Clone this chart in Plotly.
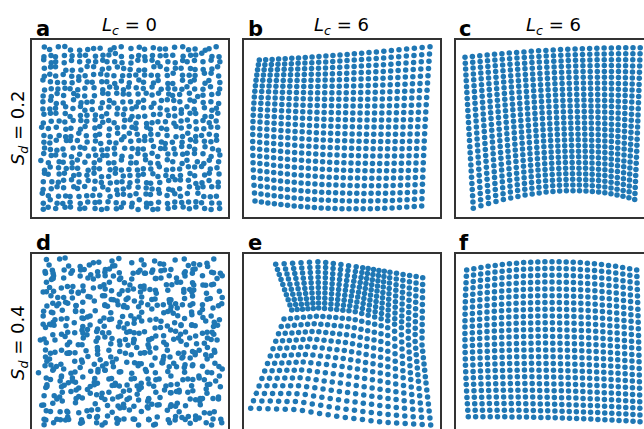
import numpy as np
import plotly.graph_objects as go

W, H = 644, 429

# Row/column labels
LC_VALUES = [0, 6, 6]
SD_VALUES = [0.2, 0.4]
PANEL_LETTERS = ["a", "b", "c", "d", "e", "f"]

# Disordered lattices (panels a, d): lattice extent, counts and site displacements
LATTICE_N = 25
LATTICE_X = [10.7, 186.0]
LATTICE_Y_TOP = [8.8, 168.8]
LATTICE_Y_BOTTOM = [8.0, 168.0]
JITTER_X = [0.8, -0.5, 0.1, -0.9, 0.6, -0.2, 0.9, -0.7, 0.3, -0.1, 0.5, -0.8, 0.2]
JITTER_Y = [-0.6, 0.4, 0.9, -0.3, -0.9, 0.7, 0.0, -0.5, 0.6, 0.2, -0.8, 0.3, 0.8,
            -0.2, 0.5, -0.7, 0.1]

# Deformed grids: control nets [row][col] = (x, y) in panel units
GRID_B = (25, 23)
NET_B = [[(15.3, 20.5), (96.0, 15.5), (186.0, 7.2)],
         [(9.0, 82.0), (94.0, 87.0), (181.0, 87.0)],
         [(11.0, 161.5), (91.0, 169.0), (177.7, 166.5)]]

GRID_C = (25, 26)
NET_C = [[(9.3, 17.8), (97.5, 10.5), (184.5, 8.2)],
         [(13.3, 92.0), (101.0, 81.0), (182.0, 84.5)],
         [(17.6, 168.7), (104.0, 151.5), (179.0, 160.0)]]

GRID_F = (25, 24)
NET_F = [[(11.0, 15.7), (96.3, 7.4), (181.0, 15.7)],
         [(9.3, 88.7), (97.0, 85.5), (183.0, 91.0)],
         [(12.6, 162.4), (99.5, 163.5), (184.3, 167.4)]]

GRID_E = (22, 23)
E_ROW_KNOTS = [0, 9, 10, 16, 22]
E_COL_KNOTS = [0.0, 0.25, 0.5, 0.75, 1.0]
NET_E = [[(31.7, 10.0), (76.0, 7.4), (116.0, 12.9), (144.3, 17.7), (178.7, 23.4)],
         [(47.7, 55.7), (76.0, 53.7), (108.0, 56.7), (142.0, 65.7), (178.0, 83.7)],
         [(40.0, 64.7), (74.0, 61.7), (108.0, 64.7), (142.0, 72.7), (178.0, 90.7)],
         [(23.5, 109.2), (61.0, 107.7), (102.0, 112.7), (142.0, 119.7), (182.0, 128.7)],
         [(6.7, 154.0), (52.0, 155.2), (97.0, 162.7), (142.0, 168.2), (186.7, 170.7)]]


def quad_basis(t):
    return np.stack([2 * (t - 0.5) * (t - 1), -4 * t * (t - 1), 2 * t * (t - 0.5)], axis=-1)


def smooth_grid(net, counts):
    nu, nv = counts
    P = np.array(net, dtype=float)            # (3, 3, 2)
    bu = quad_basis(np.linspace(0, 1, nu))    # (nu, 3)
    bv = quad_basis(np.linspace(0, 1, nv))    # (nv, 3)
    pts = np.einsum("vr,uc,rcd->vud", bv, bu, P)
    return pts[..., 0].ravel(), pts[..., 1].ravel()


def piecewise_grid(net, counts, col_knots, row_knots):
    nu, nv = counts
    P = np.array(net, dtype=float)
    u = np.linspace(0, 1, nu)
    rows = np.stack([np.stack([np.interp(u, col_knots, P[r, :, d]) for d in range(2)], -1)
                     for r in range(P.shape[0])])       # (nrows_ctrl, nu, 2)
    xs, ys = [], []
    for j in range(nv):
        for i in range(nu):
            xs.append(np.interp(j, row_knots, rows[:, i, 0]))
            ys.append(np.interp(j, row_knots, rows[:, i, 1]))
    return np.array(xs), np.array(ys)


def disordered_lattice(xlim, ylim, sd, gain):
    gx = np.linspace(xlim[0], xlim[1], LATTICE_N)
    gy = np.linspace(ylim[0], ylim[1], LATTICE_N)
    step = gx[1] - gx[0]
    amp = gain * sd * step
    nx, ny = len(JITTER_X), len(JITTER_Y)
    xs, ys = [], []
    for j in range(LATTICE_N):
        for i in range(LATTICE_N):
            kx = (5 * i + 3 * j + (i * j) % 7 + (j * j) % 5) % nx
            ky = (7 * i + 2 * j + (i * j) % 11 + (i * i) % 3) % ny
            xs.append(gx[i] + amp * JITTER_X[kx])
            ys.append(gy[j] + amp * JITTER_Y[ky])
    return np.array(xs), np.array(ys)


panels = [
    disordered_lattice(LATTICE_X, LATTICE_Y_TOP, SD_VALUES[0], 1.4),
    smooth_grid(NET_B, GRID_B),
    smooth_grid(NET_C, GRID_C),
    disordered_lattice(LATTICE_X, LATTICE_Y_BOTTOM, SD_VALUES[1], 1.6),
    piecewise_grid(NET_E, GRID_E, E_COL_KNOTS, E_ROW_KNOTS),
    smooth_grid(NET_F, GRID_F),
]

# Panel frames in pixels (left, top); each frame is 195.6 x 177.2
FRAME_W, FRAME_H = 195.6, 177.2
LEFTS = [32.0, 244.0, 455.7]
TOPS = [39.5, 254.3]

fig = go.Figure()
line_style = dict(showline=True, linecolor="#333333", linewidth=1.5,
                  showgrid=False, zeroline=False, showticklabels=False, ticks="")

for k, (xs, ys) in enumerate(panels):
    r, c = divmod(k, 3)
    n = k + 1
    xa = "x" if n == 1 else f"x{n}"
    ya = "y" if n == 1 else f"y{n}"
    fig.add_trace(go.Scatter(x=xs, y=ys, mode="markers", xaxis=xa, yaxis=ya,
                             marker=dict(size=5.5, color="#1f77b4", line=dict(width=0)),
                             hoverinfo="skip", showlegend=False))

    left, top = LEFTS[c], TOPS[r]
    right = min(left + FRAME_W, W)
    bottom = min(top + FRAME_H, H)
    x_dom = [left / W, right / W]
    y_dom = [1 - bottom / H, 1 - top / H]
    xr = [0, right - left]
    yr = [bottom - top, 0]

    xkey = "xaxis" if n == 1 else f"xaxis{n}"
    ykey = "yaxis" if n == 1 else f"yaxis{n}"
    xopts = dict(line_style, domain=x_dom, range=xr, anchor=ya)
    yopts = dict(line_style, domain=y_dom, range=yr, anchor=xa)
    if r == 0:
        xopts["mirror"] = True
    else:
        xopts["side"] = "top"
    yopts["mirror"] = c < 2
    fig.update_layout({xkey: xopts, ykey: yopts})

    # panel letter
    fig.add_annotation(x=(left + 1.5) / W, y=1 - (top - 11) / H, xref="paper", yref="paper",
                       text=f"<b>{PANEL_LETTERS[k]}</b>", showarrow=False,
                       xanchor="left", yanchor="middle",
                       font=dict(family="DejaVu Sans", size=21, color="black"))

# column titles
for c, lc in enumerate(LC_VALUES):
    cx = LEFTS[c] + FRAME_W / 2
    fig.add_annotation(x=cx / W, y=1 - 26 / H, xref="paper", yref="paper",
                       text=f"<i>L</i><sub><i>c</i></sub> = {lc}", showarrow=False,
                       xanchor="center", yanchor="middle",
                       font=dict(family="DejaVu Sans", size=18, color="black"))

# row labels
for r, sd in enumerate(SD_VALUES):
    cy = TOPS[r] + FRAME_H / 2
    fig.add_annotation(x=19 / W, y=1 - cy / H, xref="paper", yref="paper",
                       text=f"<i>S</i><sub><i>d</i></sub> = {sd}", showarrow=False,
                       textangle=-90, xanchor="center", yanchor="middle",
                       font=dict(family="DejaVu Sans", size=18, color="black"))

fig.update_layout(width=W, height=H, margin=dict(l=0, r=0, t=0, b=0),
                  paper_bgcolor="white", plot_bgcolor="white")

fig.write_html("out.html")
